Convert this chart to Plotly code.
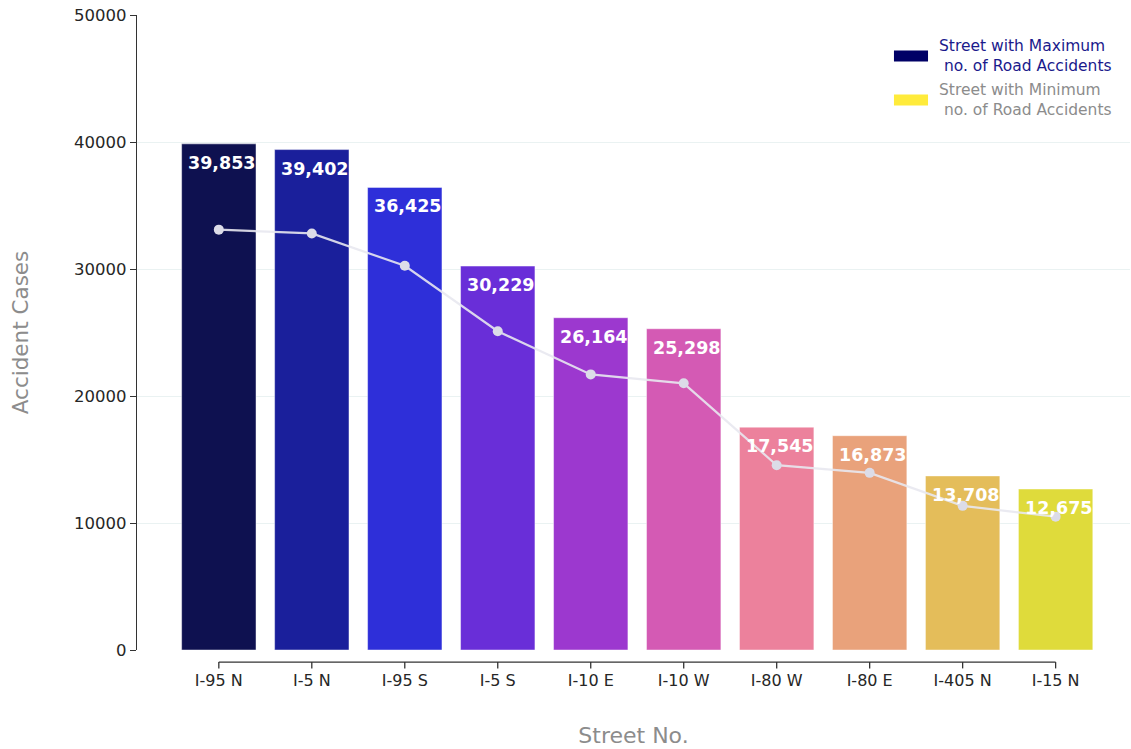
import plotly.graph_objects as go

# Accident counts per street (top 10)
streets = ["I-95 N", "I-5 N", "I-95 S", "I-5 S", "I-10 E",
           "I-10 W", "I-80 W", "I-80 E", "I-405 N", "I-15 N"]
accidents = [39853, 39402, 36425, 30229, 26164,
             25298, 17545, 16873, 13708, 12675]
# Trend line drawn across the bars
trend = [33100, 32800, 30250, 25100, 21700,
         21000, 14550, 13950, 11350, 10500]

bar_colors = ["#0e1150", "#1a1f9b", "#2e2fd9", "#692ed8", "#9c38cf",
              "#d45ab4", "#ec819c", "#e9a27b", "#e4bd5a", "#dfdb3b"]

y_ticks = [0, 10000, 20000, 30000, 40000, 50000]

FONT = "DejaVu Sans"
TICK_COLOR = "#262626"
TITLE_GRAY = "#8c8c8c"

fig = go.Figure()

fig.add_trace(go.Bar(
    x=streets, y=accidents, width=0.8,
    marker=dict(color=bar_colors, line=dict(color="rgba(255,255,255,0.45)", width=1)),
    hoverinfo="x+y", showlegend=False,
))

fig.add_trace(go.Scatter(
    x=streets, y=trend, mode="lines+markers",
    line=dict(color="rgba(232,232,240,0.9)", width=2.2),
    marker=dict(color="#dcdce8", size=10),
    showlegend=False,
))

# Value labels inside the top of each bar
for s, v in zip(streets, accidents):
    fig.add_annotation(
        x=s, y=v, text=f"{v:,}", showarrow=False,
        xshift=3, yshift=-19, yanchor="middle",
        font=dict(family=FONT, size=17.5, color="white", weight="bold"),
    )

# Offset x-axis spine spanning first to last category, with tick marks
spine_y = -0.019
tick_y = -0.029
fig.add_shape(type="line", xref="x", yref="paper",
              x0=streets[0], x1=streets[-1], y0=spine_y, y1=spine_y,
              line=dict(color="#333333", width=1.3))
for s in streets:
    fig.add_shape(type="line", xref="x", yref="paper",
                  x0=s, x1=s, y0=spine_y, y1=tick_y,
                  line=dict(color="#333333", width=1.3))

# Legend drawn as colour swatches with two-line captions
legend_items = [
    ("#000066", "Street with Maximum<br>\u00a0no. of Road Accidents", "#1a1a8c", 0.9354),
    ("#ffeb3b", "Street with Minimum<br>\u00a0no. of Road Accidents", "#8c8c8c", 0.8661),
]
for color, label, text_color, yc in legend_items:
    fig.add_shape(type="rect", xref="paper", yref="paper",
                  x0=0.7623, x1=0.7966, y0=yc - 0.0087, y1=yc + 0.0087,
                  fillcolor=color, line=dict(width=0))
    fig.add_annotation(xref="paper", yref="paper", x=0.8057, y=yc,
                       xanchor="left", yanchor="middle", align="left",
                       text=label, showarrow=False,
                       font=dict(family=FONT, size=15.5, color=text_color))

fig.update_layout(
    width=1131, height=749,
    margin=dict(l=137, r=1, t=15, b=99),
    paper_bgcolor="white", plot_bgcolor="white",
    font=dict(family=FONT, color=TICK_COLOR),
    bargap=0.2,
    xaxis=dict(
        type="category", range=[-0.88, 9.8],
        showline=False, showgrid=False, zeroline=False,
        ticks="outside", ticklen=16, tickcolor="rgba(0,0,0,0)",
        tickfont=dict(family=FONT, size=16, color=TICK_COLOR),
        title=dict(text="Street No.", standoff=38,
                   font=dict(family=FONT, size=22, color=TITLE_GRAY)),
    ),
    yaxis=dict(
        range=[0, 50000], tickvals=y_ticks,
        ticktext=[str(t) for t in y_ticks],
        showline=True, linecolor="#333333", linewidth=1.3,
        ticks="outside", ticklen=6, tickcolor="#333333", tickwidth=1.3,
        showgrid=True, gridcolor="#eaf2f2", gridwidth=1, zeroline=False,
        tickfont=dict(family=FONT, size=16.5, color=TICK_COLOR),
        title=dict(text="Accident Cases", standoff=39,
                   font=dict(family=FONT, size=21.5, color=TITLE_GRAY)),
    ),
)

fig.write_html("out.html")
